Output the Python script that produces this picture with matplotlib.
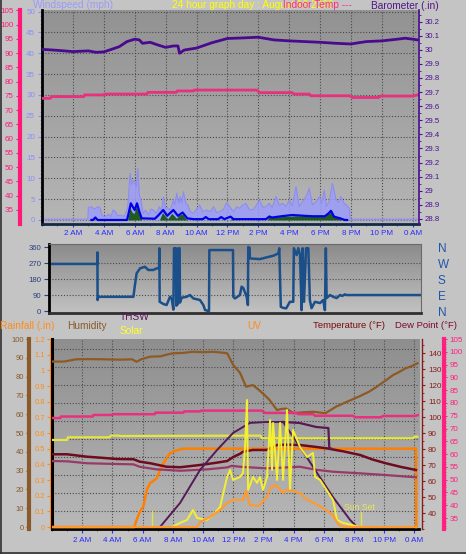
import numpy as np
import matplotlib
matplotlib.use("Agg")
import matplotlib.pyplot as plt
from matplotlib.ticker import MultipleLocator
from matplotlib.colors import to_rgb
from matplotlib.lines import Line2D

plt.rcParams['font.family'] = ['Liberation Sans', 'DejaVu Sans']

# ---------------- data ----------------
time_ticks = [2, 4, 6, 8, 10, 12, 14, 16, 18, 20, 22, 24]
time_labels = ['2 AM', '4 AM', '6 AM', '8 AM', '10 AM', '12 PM',
               '2 PM', '4 PM', '6 PM', '8 PM', '10 PM', '0 AM']

# barometer (in)
baro_h = [0.0, 1, 2, 3, 3.5, 4, 4.5, 5, 5.5, 6, 6.3, 6.5, 7, 7.5, 8, 8.5, 8.8, 8.9, 9.2, 10,
          11, 12, 12.5, 13, 14, 15, 16, 17, 18, 19, 20, 20.5, 21, 22, 23, 23.5, 24, 24.3]
baro_v = [30.003, 29.996, 29.987, 29.992, 29.982, 29.985, 30.003, 30.022, 30.058, 30.075,
          30.070, 30.046, 30.053, 30.034, 30.017, 30.027, 30.027, 29.975, 29.998, 30.012,
          30.050, 30.080, 30.082, 30.084, 30.089, 30.070, 30.063, 30.058, 30.053, 30.046,
          30.041, 30.050, 30.058, 30.063, 30.075, 30.082, 30.075, 30.070]

# pink temperature line (deg F)
pink_h = [0, 0.55, 0.6, 2.7, 2.75, 4.0, 4.05, 6.8, 6.85, 8.7, 8.75, 9.8, 9.85, 13.9, 14.1,
          16.2, 16.3, 17.3, 17.4, 19.9, 20.1, 21.8, 21.9, 24.0, 24.3]
pink_v = [74.1, 74.1, 74.7, 74.7, 75.3, 75.3, 75.6, 75.6, 76.2, 76.2, 76.7, 76.7, 77.0, 77.0,
          76.1, 76.1, 75.6, 75.6, 75.0, 75.0, 74.4, 74.4, 74.9, 74.9, 75.3]

# wind gust (mph)
gust_h = [0.0, 2.97, 3.0, 3.2, 3.4, 3.6, 3.75, 3.9, 4.1, 4.3, 4.45, 4.6, 4.75, 4.9, 5.1, 5.3,
          5.45, 5.55, 5.7, 5.8, 5.9, 6.0, 6.1, 6.2, 6.3, 6.4, 6.55, 6.7, 6.9, 7.05, 7.2, 7.4,
          7.6, 7.75, 7.85, 8.0, 8.1, 8.3, 8.5, 8.6, 8.72, 8.85, 8.95, 9.05, 9.15, 9.3, 9.45,
          9.6, 9.8, 10.0, 10.2, 10.4, 10.66, 10.9, 11.1, 11.3, 11.5, 11.75, 11.95, 12.15, 12.4,
          12.6, 12.77, 13.0, 13.2, 13.4, 13.64, 13.85, 14.07, 14.3, 14.5, 14.7, 14.9, 15.15,
          15.35, 15.58, 15.8, 16.0, 16.2, 16.44, 16.65, 16.85, 17.1, 17.3, 17.5, 17.75, 17.95,
          18.1, 18.27, 18.4, 18.6, 18.8, 19.03, 19.2, 19.35, 19.55, 19.7, 19.9, 19.95, 24.4]
gust_v = [0.2, 0.2, 3.0, 3.2, 2.6, 3.2, 3.0, 1.0, 0.8, 1.4, 0.8, 2.4, 2.0, 1.0, 1.2, 0.8,
          2.0, 3.0, 11.2, 8.5, 9.5, 9.0, 8.0, 12.4, 6.0, 4.8, 1.5, 2.4, 1.2, 2.6, 2.4, 1.6,
          3.2, 2.0, 5.6, 2.8, 3.0, 2.4, 4.8, 3.6, 6.4, 4.0, 5.6, 4.0, 6.8, 4.2, 3.4,
          2.0, 1.6, 2.6, 3.6, 2.0, 2.4, 2.0, 3.2, 1.8, 2.0, 2.6, 4.2, 3.2, 2.0,
          3.2, 2.8, 3.6, 4.0, 2.6, 2.4, 3.4, 4.8, 3.0, 3.2, 4.0, 3.0, 5.6,
          3.6, 4.0, 3.2, 4.8, 3.4, 8.0, 3.2, 4.4, 5.6, 7.6, 3.6, 4.4, 5.6,
          4.0, 7.2, 3.2, 4.6, 8.8, 4.8, 4.2, 5.6, 4.0, 3.6, 2.8, 0.2, 0.2]

# average wind (mph)
avg_h = [3.2, 3.3, 3.45, 3.6, 5.5, 5.6, 5.75, 5.9, 6.0, 6.15, 6.3, 6.45, 7.3, 7.5, 7.85, 8.1,
         8.5, 8.8, 9.1, 9.4, 9.8, 10.4, 10.6, 10.8, 11.4, 11.6, 11.8, 12.2, 12.4, 12.6, 14.5,
         14.7, 14.9, 15.5, 16.2, 17.0, 17.5, 18.3, 18.55, 18.7, 18.9, 19.3, 19.6, 19.75]
avg_v = [0, 0, 0.6, 0, 0, 1.5, 4.0, 3.0, 2.4, 4.0, 2.0, 0.4, 0.3, 1.0, 2.4, 1.0,
         2.4, 1.0, 1.8, 0.4, 0.2, 0.2, 0.7, 0.2, 0.2, 0.7, 0.2, 0.8, 0.2, 0.2, 0.2,
         0.8, 0.6, 0.9, 1.2, 1.0, 0.9, 0.9, 1.6, 2.2, 0.8, 0.4, 0, 0]

# green filled series (mph)
green_h = [0, 5.55, 5.7, 5.8, 5.95, 6.1, 6.2, 6.35, 6.45, 7.6, 7.8, 7.95, 8.15, 8.4, 8.55,
           8.7, 8.9, 9.1, 9.3, 9.45, 12.2, 12.3, 12.4, 14.6, 14.7, 14.8, 15.5, 16.5, 17.5,
           18.2, 18.6, 18.75, 18.9, 19.2, 19.4, 24.4]
green_v = [0, 0, 3.0, 2.0, 1.5, 3.2, 2.5, 1.0, 0, 0, 1.8, 1.0, 0.3, 1.6, 1.0,
           0.4, 1.2, 1.4, 0.3, 0, 0, 0.6, 0, 0, 1.4, 0.8, 0.8, 1.0, 0.9,
           1.0, 1.6, 2.2, 1.0, 0.6, 0, 0]

# wind direction (degrees)
wdir_h = [0.0, 3.01, 3.02, 3.03, 3.08, 5.36, 5.46, 5.57, 5.79, 6.11, 6.33, 6.66, 6.87, 7.03,
          7.05, 7.07, 7.3, 7.52, 7.74, 7.85, 7.96, 8.0, 8.13, 8.15, 8.26, 8.28, 8.37, 8.39,
          8.5, 8.82, 9.04, 9.26, 9.69, 9.91, 10.02, 10.23, 10.28, 10.3, 11.84, 11.86, 11.97,
          12.29, 12.4, 12.51, 12.73, 12.81, 12.83, 12.92, 12.94, 13.59, 13.81, 14.03, 14.46,
          14.79, 14.85, 14.95, 15.1, 15.3, 15.54, 15.76, 15.8, 15.98, 16.09, 16.2, 16.3,
          16.37, 16.46, 16.59, 16.74, 16.84, 16.95, 17.17, 17.5, 17.71, 17.82, 17.88, 17.93,
          18.15, 18.36, 18.58, 18.8, 18.95, 19.12, 19.2, 24.0]
wdir_v = [265, 265, 330, 62, 80, 80, 146, 212, 240, 249, 231, 231, 240, 240,
          353, 52, 40, 34, 80, 71, 8, 353, 353, 30, 40, 353, 353, 48,
          75, 80, 90, 71, 62, 34, 6, 0, 0, 343, 343, 80, 71,
          90, 137, 130, 80, 34, 360, 356, 296, 292, 297, 302, 311,
          324, 353, 24, 18, 15, 52, 52, 353, 315, 353, 315, 5,
          353, 52, 353, 353, 62, 16, 52, 45, 62, 5, 353, 73,
          90, 80, 73, 90, 85, 94, 90, 90]
dir_ticks = [0, 90, 180, 270, 360]
dir_labels = ['0', '90', '180', '270', '360']
compass_labels = ['N', 'E', 'S', 'W', 'N']

# humidity (%)
hum_h = [0, 0.8, 1.6, 2.5, 3.5, 4.5, 5.3, 5.6, 5.9, 6.5, 7.2, 7.5, 8.0, 8.7, 9.3, 10.0, 10.7,
         11.2, 11.6, 12.0, 12.45, 12.85, 13.3, 13.7, 14.1, 14.4, 14.9, 15.2, 15.5, 16.0, 16.6,
         17.3, 18.1, 18.8, 19.5, 20.3, 21.0, 21.5, 22.1, 22.6, 23.0, 23.4, 23.8, 24.2]
hum_v = [88.0, 88.0, 89.2, 89.3, 89.2, 89.0, 89.2, 87.9, 89.2, 90.6, 90.8, 91.5, 92.4, 92.6,
         93.2, 93.0, 93.2, 92.8, 92.4, 86.2, 82.0, 74.6, 75.5, 72.9, 70.0, 67.6, 62.2, 62.8,
         63.0, 60.5, 61.0, 61.3, 60.5, 64.0, 66.5, 69.3, 72.0, 74.6, 78.0, 80.9, 82.5, 84.4,
         85.5, 87.1]

# pale yellow line (humidity scale)
yel_h = [0, 1.0, 1.05, 3.8, 3.9, 4.4, 4.5, 13.8, 13.9, 23.9, 24.0, 24.2]
yel_v = [46.3, 46.3, 47.7, 47.7, 48.6, 48.6, 48.4, 48.6, 47.2, 47.2, 48.0, 48.0]

# temperature / dew point (deg F)
temp_h = [0, 1.0, 2.3, 3.3, 4.3, 5.4, 5.8, 6.5, 7.6, 8.5, 9.8, 10.8, 11.6, 12.0, 12.45, 12.65,
          13.3, 14.2, 14.9, 15.6, 16.4, 17.3, 18.2, 19.3, 20.4, 21.2, 22.1, 23.1, 24.1]
temp_v = [76.7, 76.7, 75.2, 74.5, 73.75, 73.6, 72.1, 71.1, 68.9, 68.6, 70.0, 71.3, 72.5, 75.0,
          77.0, 78.3, 79.4, 79.4, 82.5, 82.7, 82.5, 81.5, 80.4, 78.5, 76.25, 73.5, 71.1, 68.8,
          66.9]
dew_h = [0, 1.0, 2.3, 3.5, 5.4, 5.8, 6.9, 8.5, 10.3, 11.6, 11.9, 12.45, 14.2, 16.4, 17.5,
         18.6, 20.4, 22.0, 24.1]
dew_v = [72.5, 72.3, 71.1, 70.8, 70.4, 68.9, 67.3, 66.4, 67.3, 68.5, 69.5, 68.9, 67.9, 68.9,
         67.0, 65.8, 64.8, 63.8, 62.3]
thsw_h = [15.3, 16.4, 17.5, 18.3, 18.36, 18.5]
thsw_v = [96.9, 96.25, 93.75, 93.1, 80.6, 80.2]

# rainfall (in)
rain_h = [0, 5.45, 5.6, 5.83, 6.05, 6.27, 6.49, 6.93, 7.15, 7.37, 7.8, 8.26, 8.7, 24.1, 24.12]
rain_v = [0, 0, 0.045, 0.10, 0.13, 0.236, 0.28, 0.31, 0.363, 0.406, 0.47, 0.49, 0.50, 0.50, 0]

# UV index
uv_h = [0, 9.6, 9.8, 10.46, 11.13, 11.59, 11.99, 12.65, 12.85, 13.1, 13.7, 14.24, 14.44, 14.8,
        15.3, 15.5, 15.96, 16.42, 16.8, 17.55, 18.2, 18.6, 18.87, 19.07, 19.4, 24.1]
uv_v = [0, 0, 0.43, 0.85, 1.45, 2.04, 2.3, 2.3, 3.1, 1.87, 1.8, 2.55, 3.3, 3.6,
        2.9, 3.15, 3.05, 2.9, 2.4, 1.9, 1.4, 1.0, 0.4, 0.1, 0, 0]

# solar radiation (W/m2)
sol_h = [0, 7.95, 8.48, 8.94, 9.34, 9.6, 10.26, 10.66, 11.13, 11.59, 11.79, 11.99, 12.45,
         12.65, 12.78, 12.91, 12.98, 13.31, 13.58, 13.77, 13.97, 14.24, 14.44, 14.57, 14.64,
         14.9, 15.1, 15.3, 15.56, 15.76, 15.96, 16.23, 16.42, 16.89, 17.28, 17.42, 17.75,
         18.61, 18.87, 19.27, 20.4, 24.1]
sol_v = [0, 0, 26, 45, 109, 58, 45, 77, 128, 320, 365, 301, 320, 346, 512, 813, 237, 320, 282,
         320, 237, 320, 685, 365, 666, 301, 666, 301, 749, 237, 621, 557, 512, 448, 474, 320,
         301, 173, 45, 26, 0, 0]
maxsol_h = [7.15, 8.48, 9.8, 10.93, 11.99, 13.1, 14.2, 15.3, 16.42, 17.55, 18.6, 19.74, 20.2]
maxsol_v = [0, 154, 365, 493, 602, 666, 672, 672, 512, 346, 192, 45, 0]

sunrise_h = 6.62
sunset_h = 20.46

# ---------------- figure ----------------
W, H = 466, 554
fig = plt.figure(figsize=(W / 100, H / 100), dpi=100, facecolor='#c4c4c4')


def rect(x0, y0, x1, y1):
    return [x0 / W, 1 - y1 / H, (x1 - x0) / W, (y1 - y0) / H]


def add_bg(r, top, bot):
    a = fig.add_axes(r)
    c1, c2 = np.array(to_rgb(top)), np.array(to_rgb(bot))
    t = np.linspace(0, 1, 200)[:, None, None]
    img = c1 * (1 - t) + c2 * t
    a.imshow(img, aspect='auto', extent=[0, 1, 0, 1], origin='upper', interpolation='bilinear')
    a.set_axis_off()
    return a


def twin(ax, ylim, side=None, pos=None, color='k', ticks=None, labels=None, lw=1.0,
         fs=5.8, length=3, pad=1.5, minor=None, width=0.8):
    t = ax.twinx()
    t.set_ylim(*ylim)
    for s in t.spines.values():
        s.set_visible(False)
    t.patch.set_visible(False)
    if side is None:
        t.set_yticks([])
        t.tick_params(axis='y', which='both', left=False, right=False)
        return t
    sp = t.spines[side]
    sp.set_visible(True)
    sp.set_position(('axes', pos))
    sp.set_color(color)
    sp.set_linewidth(lw)
    if side == 'left':
        t.yaxis.tick_left()
    else:
        t.yaxis.tick_right()
    t.set_yticks(ticks)
    if labels is not None:
        t.set_yticklabels(labels)
    t.tick_params(axis='y', which='major', colors=color, labelsize=fs, length=length,
                  pad=pad, width=width)
    if minor:
        t.yaxis.set_minor_locator(MultipleLocator(minor))
        t.tick_params(axis='y', which='minor', colors=color, length=length * 0.5, width=0.6)
    return t


grid_kw = dict(color='#4a4a4a', linestyle=(0, (1, 1.6)), linewidth=0.8)
xlab_color = '#2a2aff'

# ================= TOP PANEL =================
r_top = rect(42, 10, 419, 224)
add_bg(r_top, '#929292', '#b6b6b6')
ax1 = fig.add_axes(r_top, facecolor='none')
ax1.set_xlim(0, 24.4)
ax1.set_ylim(-0.96, 50.36)
ax1.set_xticks(time_ticks)
ax1.set_xticklabels(time_labels)
ax1.xaxis.set_minor_locator(MultipleLocator(1))
ax1.tick_params(axis='x', which='major', colors=xlab_color, labelsize=5.8, length=2.5, pad=2)
ax1.tick_params(axis='x', which='minor', color='#505050', length=1.5)
ax1.set_yticks(range(0, 51, 5))
ax1.yaxis.set_minor_locator(MultipleLocator(1))
ax1.tick_params(axis='y', which='major', colors='#8c8cff', labelsize=5.8, length=3, pad=2)
ax1.tick_params(axis='y', which='minor', colors='#8c8cff', length=1.5)
ax1.grid(True, which='major', **grid_kw)
ax1.set_axisbelow(True)
for s in ['top', 'right']:
    ax1.spines[s].set_visible(False)
ax1.spines['left'].set_color('black')
ax1.spines['left'].set_linewidth(2)
ax1.spines['bottom'].set_color('#142a44')
ax1.spines['bottom'].set_linewidth(2)

ax1.fill_between(gust_h, 0, gust_v, color='#9c9cfa', alpha=0.85, lw=0, zorder=2)
ax1.plot(gust_h, gust_v, color='#8c8cf4', lw=0.8, zorder=2)
ax1.fill_between(green_h, 0, green_v, color='#1f5a1f', lw=0, zorder=3)
ax1.plot(avg_h, avg_v, color='#0000e6', lw=1.6, zorder=4)

ax_p = twin(ax1, (30, 105.1), side='left', pos=(20 - 42) / 377, color='#ff1a7a',
            ticks=list(range(35, 106, 5)), lw=3, fs=5.8, length=3, pad=1.5, minor=1)
ax_p.plot(pink_h, pink_v, color='#e8307f', lw=2)

baro_ticks = np.round(np.arange(28.8, 30.25, 0.1), 1)
ax_b = twin(ax1, (28.7645, 30.282), side='right', pos=1.0, color='#4a1090',
            ticks=baro_ticks, labels=[f'{v:g}' for v in baro_ticks], lw=1.2, fs=5.6,
            length=2.5, pad=1.8, minor=0.05)
ax_b.plot(baro_h, baro_v, color='#4a0a90', lw=2)

# ================= MIDDLE PANEL =================
r_mid = rect(49, 244, 421, 313)
add_bg(r_mid, '#8a8a8a', '#c2c2c2')
axm = fig.add_axes(r_mid, facecolor='none')
axm.set_xlim(-0.13, 24.07)
axm.set_ylim(-11, 377)
axm.set_xticks([])
axm.set_yticks(dir_ticks)
axm.set_yticklabels(dir_labels)
axm.tick_params(axis='y', colors='#2a3f7a', labelsize=5.6, length=3.5, pad=2)
for y in [90, 180, 270]:
    axm.axhline(y, **grid_kw)
axm.spines['left'].set_color('black')
axm.spines['left'].set_linewidth(2)
axm.spines['bottom'].set_color('#303030')
axm.spines['bottom'].set_linewidth(2)
axm.spines['top'].set_color('#6a6a6a')
axm.spines['right'].set_color('#6a6a6a')
axm.plot(wdir_h, wdir_v, color='#1a4f8a', lw=1.8)
axm_r = axm.twinx()
axm_r.set_ylim(-11, 377)
axm_r.set_yticks(dir_ticks)
axm_r.set_yticklabels(compass_labels)
axm_r.tick_params(axis='y', colors='#1f55a8', labelsize=8.5, length=0, pad=12)
for s in axm_r.spines.values():
    s.set_visible(False)

# ================= BOTTOM PANEL =================
r_bot = rect(52, 339, 419, 529)
add_bg(r_bot, '#8e8e8e', '#b8b8b8')
ax3 = fig.add_axes(r_bot, facecolor='none')
ax3.set_xlim(0, 24.3)
ax3.set_ylim(0, 190)
ax3.set_xticks(time_ticks)
ax3.set_xticklabels(time_labels)
ax3.xaxis.set_minor_locator(MultipleLocator(1))
ax3.tick_params(axis='x', which='major', colors=xlab_color, labelsize=5.8, length=3, pad=2.4)
ax3.tick_params(axis='x', which='minor', color='#505050', length=1.5)
ax3.set_yticks([18 * k for k in range(1, 11)])
ax3.tick_params(axis='y', length=0, labelleft=False)
ax3.grid(True, which='major', **grid_kw)
for s in ['top', 'right']:
    ax3.spines[s].set_visible(False)
ax3.spines['left'].set_color('black')
ax3.spines['left'].set_linewidth(2.2)
ax3.spines['bottom'].set_color('black')
ax3.spines['bottom'].set_linewidth(2)

# sunrise / sunset markers
ax3.plot([sunrise_h, sunrise_h], [0, 18], color='#e4e440', lw=1)
ax3.plot([sunset_h, sunset_h], [0, 17], color='#e4e440', lw=1)
ax3.text(sunset_h - 1.12, 22, 'Sun Set', color='#e6e65a', fontsize=6.3, va='center')

ax_h = twin(ax3, (-1.06, 100), side='left', pos=(29 - 52) / 367, color='#8b5a2b',
            ticks=list(range(0, 101, 10)), lw=3, fs=5.5, length=2.5, pad=1.2, minor=5)
ax_r = twin(ax3, (-0.0127, 1.197), side='left', pos=(50 - 52) / 367, color='#ff8c1a',
            ticks=np.round(np.arange(0, 1.25, 0.1), 1),
            labels=[f'{v:g}' for v in np.round(np.arange(0, 1.25, 0.1), 1)],
            lw=0.8, fs=5.5, length=2.2, pad=1.5)
ax_t = twin(ax3, (30, 148.75), side='right', pos=(422 - 52) / 367, color='#8b1a1a',
            ticks=list(range(40, 141, 10)), lw=1.0, fs=5.8, length=2.5, pad=1.8, minor=5)
ax_d = twin(ax3, (30.72, 104.65), side='right', pos=(444 - 52) / 367, color='#ff2080',
            ticks=list(range(35, 106, 5)), lw=3, fs=5.8, length=2.5, pad=1.5, minor=1)
ax_s = twin(ax3, (-12.8, 1203))
ax_u = twin(ax3, (-0.17, 16.0))

ax_h.plot(hum_h, hum_v, color='#8e5a24', lw=1.6)
ax_h.plot(yel_h, yel_v, color='#e6e640', lw=1.6)
ax_d.plot(pink_h, pink_v, color='#e8307f', lw=1.8)
ax_t.plot(dew_h, dew_v, color='#983a68', lw=1.6)
ax_t.plot(temp_h, temp_v, color='#6e0b1e', lw=1.8)
ax_r.plot(rain_h, rain_v, color='#ff8000', lw=1.8)
ax_s.plot(maxsol_h, maxsol_v, color='#561a56', lw=1.4)
ax_t.plot(thsw_h, thsw_v, color='#561a56', lw=1.6)
ax_u.plot(uv_h, uv_v, color='#ff9a30', lw=1.6)
ax_s.plot(sol_h, sol_v, color='#f4f030', lw=1.4)

# ================= TEXTS =================
def ftext(x, y, s, color, fs=7.3):
    fig.text(x / W, 1 - y / H, s, color=color, fontsize=fs, ha='left', va='center')


ftext(33, 5.5, 'Windspeed (mph)', '#9a9aff')
ftext(172, 5, '24 hour graph day : August 16 2026', '#ffff00')
ftext(283, 5, 'Indoor Temp ---', '#ff2a8a')
ftext(371, 6, 'Barometer (.in)', '#50148c')
ftext(0, 326, 'Rainfall (.in)', '#ff8c1a')
ftext(67, 326, 'Humidity', '#8b5a2b')
ftext(120, 317.5, 'THSW', '#5a1a5a')
ftext(120, 331, 'Solar', '#ffff30')
ftext(247, 326, 'UV', '#ff8c1a')
ftext(313, 326, 'Temperature (°F)', '#7a0a0a', 6.8)
ftext(395, 326, 'Dew Point (°F)', '#7a0a30', 6.8)

fig.add_artist(Line2D([0.6 / W, 0.6 / W], [0, 1], color='#303030', lw=1.2,
                      transform=fig.transFigure))
fig.add_artist(Line2D([0, 1], [0.6 / H, 0.6 / H], color='#303030', lw=1.2,
                      transform=fig.transFigure))

fig.savefig('out.png', dpi=100, facecolor=fig.get_facecolor())
